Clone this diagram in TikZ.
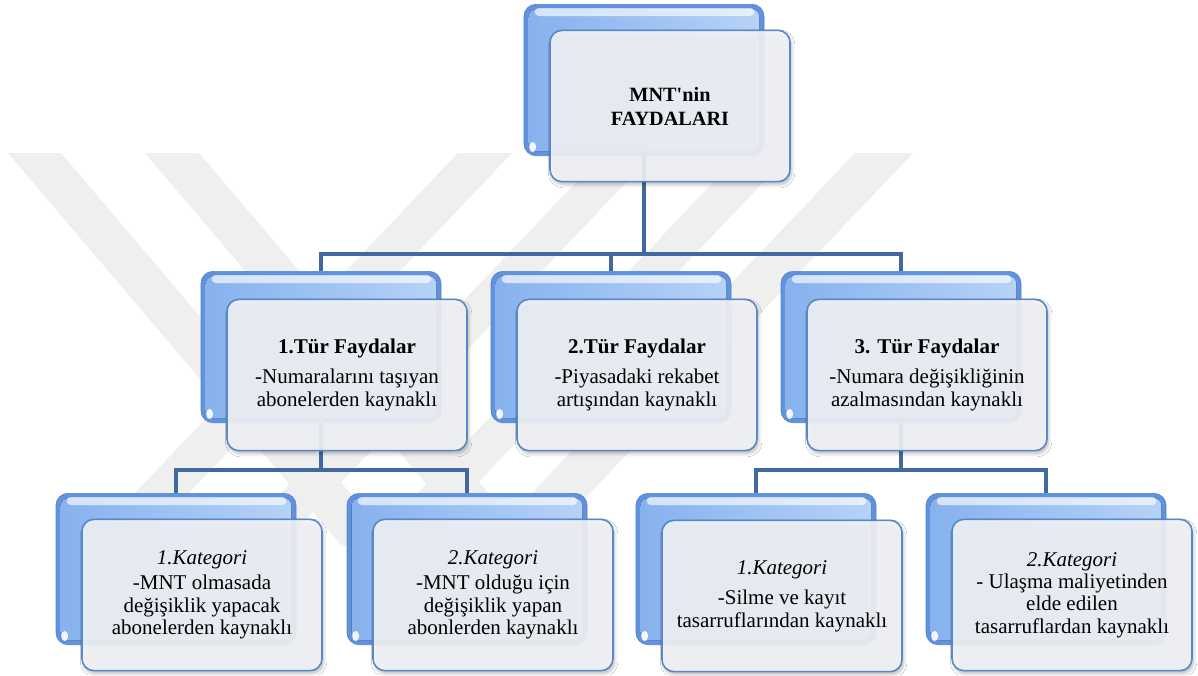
\documentclass[tikz,border=0pt]{standalone}
\usepackage{fontspec}
\setmainfont{Liberation Serif}[Ligatures=TeXOff]
\usetikzlibrary{calc,shadows.blur,backgrounds}

\definecolor{lineblue}{RGB}{65,105,160}
\definecolor{backbase}{RGB}{96,146,222}
\definecolor{backedge}{RGB}{84,130,200}
\definecolor{backinL}{RGB}{135,178,238}
\definecolor{backinR}{RGB}{182,210,247}
\definecolor{frontedge}{RGB}{88,136,198}
\definecolor{frontfill}{RGB}{243,244,248}
\definecolor{wmark}{RGB}{239,239,239}

\tikzset{
  conn/.style={draw=lineblue, line width=3.6pt},
  backbox/.style={draw=backedge, line width=0.5pt, fill=backbase,
    rounded corners=9pt, minimum width=180pt, minimum height=113.5pt, inner sep=0pt},
  frontbox/.style={draw=frontedge, line width=1.2pt, fill=frontfill, fill opacity=0.9,
    text opacity=1, rounded corners=9pt, minimum width=180pt, minimum height=113.5pt,
    inner sep=2pt, align=center, text=black,
    blur shadow={shadow xshift=1.2pt, shadow yshift=-2.2pt, shadow opacity=30,
      shadow blur radius=2.5pt, shadow blur steps=6}},
  rootfont/.style={font=\fontsize{15.2}{18}\selectfont\bfseries},
  bodyfont/.style={font=\fontsize{15.75}{16.8}\selectfont},
}

% blue back panel with its inner tone, top gloss and corner highlight
\newcommand\backpanel[3]{%
  \node[backbox] (#1) at (#2,#3) {};
  \fill[left color=backinL, right color=backinR, rounded corners=6pt]
    ($(#1.north west)+(5,5)$) rectangle ($(#1.south east)+(-5,-5)$);
  \fill[white, opacity=0.65, rounded corners=3pt]
    ($(#1.north west)+(11,4)$) rectangle ($(#1.north east)+(-10,12)$);
  \fill[white, opacity=0.9] ($(#1.south west)+(9,-9)$) ellipse [x radius=2.6pt, y radius=3.8pt];
}

\begin{document}
\begin{tikzpicture}[x=0.75pt,y=-0.75pt]
\useasboundingbox (0,0) rectangle (1198,675);

% back panels
\backpanel{rootb}{644}{80}
\backpanel{m1b}{321}{347}
\backpanel{m2b}{611}{347}
\backpanel{m3b}{901}{347}
\backpanel{b1b}{176}{569}
\backpanel{b2b}{467}{569}
\backpanel{b3b}{756}{569}
\backpanel{b4b}{1046}{569}

% front panels with text
\node[frontbox, rootfont] (root) at (670,106) {MNT'nin\\FAYDALARI};

\node[frontbox, bodyfont] (m1) at (347,375)
  {\textbf{1.Tür Faydalar}\\[5.5pt]-Numaralarını taşıyan\\abonelerden kaynaklı};
\node[frontbox, bodyfont] (m2) at (637,375)
  {\textbf{2.Tür Faydalar}\\[5.5pt]-Piyasadaki rekabet\\artışından kaynaklı};
\node[frontbox, bodyfont] (m3) at (927,375)
  {\textbf{3. Tür Faydalar}\\[5.5pt]-Numara değişikliğinin\\azalmasından kaynaklı};

\node[frontbox, bodyfont] (b1) at (202,595)
  {\textit{1.Kategori}\\[2pt]-MNT olmasada\\değişiklik yapacak\\abonelerden kaynaklı};
\node[frontbox, bodyfont] (b2) at (493,595)
  {\textit{2.Kategori}\\[2pt]-MNT olduğu için\\değişiklik yapan\\abonlerden kaynaklı};
\node[frontbox, bodyfont] (b3) at (782,596)
  {\textit{1.Kategori}\\[6pt]-Silme ve kayıt\\tasarruflarından kaynaklı};
\node[frontbox, bodyfont] (b4) at (1072,595)
  {\textit{2.Kategori}\\- Ulaşma maliyetinden\\elde edilen\\tasarruflardan kaynaklı};

% junctions of the connector bars
\coordinate (j0) at (644,254);
\coordinate (j1) at (321,470);
\coordinate (j3) at (901,470);

\begin{pgfonlayer}{background}
  \fill[white] (0,0) rectangle (1198,675);
  % faint striped emblem in the background
  \begin{scope}
    \clip (0,153) rectangle (1198,545);
    \foreach \xa/\w in {8/53,145/54}
      \fill[wmark] (\xa,153) -- ++(\w,0) -- ++(340,400) -- ++(-\w,0) -- cycle;
    \foreach \xa/\w in {458/54,604/50,741/50,855/58}
      \fill[wmark] (\xa,153) -- ++(\w,0) -- ++(-380,400) -- ++(-\w,0) -- cycle;
  \end{scope}
  % connectors
  \draw[conn] (rootb.center) -- (j0);
  \draw[conn] (m1b.north) |- (j0) -| (m3b.north);
  \draw[conn] (m2b.north) -- (m2b.north |- j0);
  \draw[conn] (m1b.center) -- (j1);
  \draw[conn] (b1b.north) |- (j1) -| (b2b.north);
  \draw[conn] (m3b.center) -- (j3);
  \draw[conn] (b3b.north) |- (j3) -| (b4b.north);
\end{pgfonlayer}
\end{tikzpicture}
\end{document}
